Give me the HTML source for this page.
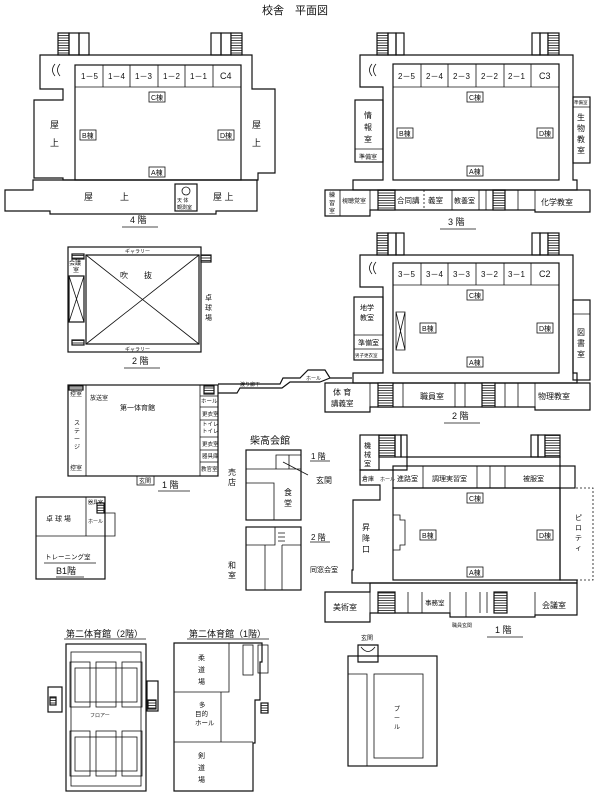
<!DOCTYPE html>
<html><head><meta charset="utf-8"><style>
html,body{margin:0;padding:0;background:#fff}
svg{display:block}
text{font-family:"Liberation Sans","Noto Sans CJK JP",sans-serif;fill:#111}
.s{fill:none;stroke:#111;stroke-width:1.2}
.t{stroke:#111;stroke-width:0.8;fill:none}
.d{fill:none;stroke:#111;stroke-width:0.8;stroke-dasharray:2 2}
.h{fill:url(#hatch);stroke:#111;stroke-width:1.2}
</style></head><body>
<svg width="600" height="799" viewBox="0 0 600 799" xmlns="http://www.w3.org/2000/svg">
<defs><pattern id="hatch" width="4" height="2.5" patternUnits="userSpaceOnUse"><rect width="4" height="2.5" fill="#fff"/><line x1="0" y1="0.5" x2="4" y2="0.5" stroke="#111" stroke-width="0.8"/></pattern></defs>
<text x="262" y="14" font-size="11">校舎　平面図</text>

<!-- ===== 4F ===== -->
<g>
<rect class="h" x="58" y="33" width="11" height="22"/><rect class="s" x="69" y="33" width="10" height="22"/><rect class="s" x="79" y="33" width="10" height="22"/>
<rect class="s" x="211" y="33" width="10" height="22"/><rect class="s" x="221" y="33" width="10" height="22"/><rect class="h" x="231" y="33" width="11" height="22"/>
<path class="s" d="M40 55 H252 V89 H275 V173 H258 V180 H63 V178 H34 V100 H63 V89 H40 Z"/>
<path class="s" d="M33 180 H257 V211 H216 V214 H50 V211 H5 V190 H33 Z"/>
<rect class="s" x="75" y="65" width="166" height="115"/>
<line class="t" x1="75" y1="87" x2="241" y2="87"/>
<g class="t"><line x1="103" y1="65" x2="103" y2="87"/><line x1="130" y1="65" x2="130" y2="87"/><line x1="158" y1="65" x2="158" y2="87"/><line x1="185" y1="65" x2="185" y2="87"/><line x1="213" y1="65" x2="213" y2="87"/></g>
<g font-size="8"><text x="81" y="79">1－5</text><text x="108" y="79">1－4</text><text x="135" y="79">1－3</text><text x="163" y="79">1－2</text><text x="190" y="79">1－1</text><text x="220" y="79" font-size="9">C4</text></g>
<g font-size="7"><rect class="t" x="149" y="92" width="16" height="10"/><text x="151" y="100">C棟</text>
<rect class="t" x="80" y="130" width="16" height="10"/><text x="82" y="138">B棟</text>
<rect class="t" x="218" y="130" width="16" height="10"/><text x="220" y="138">D棟</text>
<rect class="t" x="149" y="167" width="16" height="10"/><text x="151" y="175">A棟</text></g>
<text x="50" y="128" font-size="9">屋</text><text x="50" y="146" font-size="9">上</text>
<text x="252" y="128" font-size="9">屋</text><text x="252" y="146" font-size="9">上</text>
<text x="84" y="200" font-size="9">屋　　　上</text><text x="213" y="200" font-size="9">屋 上</text>
<rect class="s" x="175" y="184" width="22" height="27"/><circle class="t" cx="186" cy="191" r="4"/><text x="177" y="202" font-size="5">天 体</text><text x="177" y="209" font-size="5">観測室</text>
<text x="130" y="223" font-size="9">4 階</text><line class="t" x1="122" y1="227" x2="158" y2="227"/>
<path class="t" d="M55 64 q-5 6 0 12 M60 64 q-5 6 0 12"/>
</g>

<!-- ===== 3F ===== -->
<g>
<rect class="h" x="377" y="33" width="11" height="22"/><rect class="s" x="388" y="33" width="8" height="22"/><rect class="s" x="396" y="33" width="8" height="22"/>
<rect class="s" x="532" y="33" width="8" height="22"/><rect class="s" x="540" y="33" width="8" height="22"/><rect class="h" x="548" y="33" width="11" height="22"/>
<path class="s" d="M360 55 H573 V180 H577 V190 H353 V180 H383 V87 H360 Z"/>
<rect class="s" x="393" y="64" width="166" height="116"/>
<line class="t" x1="393" y1="87" x2="559" y2="87"/>
<g class="t"><line x1="421" y1="64" x2="421" y2="87"/><line x1="448" y1="64" x2="448" y2="87"/><line x1="476" y1="64" x2="476" y2="87"/><line x1="504" y1="64" x2="504" y2="87"/><line x1="531" y1="64" x2="531" y2="87"/></g>
<g font-size="8"><text x="398" y="79">2－5</text><text x="426" y="79">2－4</text><text x="453" y="79">2－3</text><text x="481" y="79">2－2</text><text x="508" y="79">2－1</text><text x="539" y="79" font-size="9">C3</text></g>
<g font-size="7"><rect class="t" x="467" y="92" width="16" height="10"/><text x="469" y="100">C棟</text>
<rect class="t" x="397" y="128" width="16" height="10"/><text x="399" y="136">B棟</text>
<rect class="t" x="537" y="128" width="16" height="10"/><text x="539" y="136">D棟</text>
<rect class="t" x="467" y="166" width="16" height="10"/><text x="469" y="174">A棟</text></g>
<rect class="s" x="355" y="100" width="28" height="62"/><line class="t" x1="355" y1="149" x2="383" y2="149"/>
<text x="364" y="118" font-size="8">情</text><text x="364" y="130" font-size="8">報</text><text x="364" y="142" font-size="8">室</text><text x="359" y="159" font-size="6">準備室</text>
<rect class="s" x="573" y="97" width="17" height="66"/><line class="t" x1="573" y1="107" x2="590" y2="107"/><text x="574" y="104" font-size="4.5">準備室</text>
<text x="577" y="120" font-size="8">生</text><text x="577" y="131" font-size="8">物</text><text x="577" y="142" font-size="8">教</text><text x="577" y="153" font-size="8">室</text>
<path class="s" d="M325 190 H590 V212 H535 V210 H370 V216 H325 Z"/>
<rect class="h" x="378" y="190" width="17" height="20"/><rect class="h" x="493" y="190" width="12" height="20"/>
<g class="t"><line x1="340" y1="190" x2="340" y2="216"/><line x1="370" y1="190" x2="370" y2="210"/><line x1="452" y1="190" x2="452" y2="210"/><line x1="479" y1="190" x2="479" y2="210"/><line x1="486" y1="190" x2="486" y2="210"/><line x1="518" y1="190" x2="518" y2="210"/><line x1="535" y1="190" x2="535" y2="212"/></g>
<line class="d" x1="424" y1="190" x2="424" y2="210"/>
<g font-size="6"><text x="329" y="197">練</text><text x="329" y="205">習</text><text x="329" y="213">室</text><text x="342" y="203">視聴覚室</text><text x="397" y="203" font-size="7.5">合同講</text><text x="428" y="203" font-size="7.5">義室</text><text x="454" y="203" font-size="7">教養室</text></g>
<text x="541" y="205" font-size="8">化学教室</text>
<text x="448" y="225" font-size="9">3 階</text><line class="t" x1="440" y1="229" x2="476" y2="229"/>
<path class="t" d="M372 64 q-5 6 0 12 M376 64 q-5 6 0 12"/>
</g>

<!-- ===== 2F ===== -->
<g>
<rect class="h" x="377" y="233" width="11" height="22"/><rect class="s" x="388" y="233" width="8" height="22"/><rect class="s" x="396" y="233" width="8" height="22"/>
<rect class="s" x="532" y="233" width="8" height="22"/><rect class="s" x="540" y="233" width="8" height="22"/><rect class="h" x="548" y="233" width="11" height="22"/>
<path class="s" d="M360 255 H573 V373 H577 V383 H353 V373 H383 V287 H360 Z"/>
<rect class="s" x="393" y="263" width="166" height="110"/>
<line class="t" x1="393" y1="285" x2="559" y2="285"/>
<g class="t"><line x1="421" y1="263" x2="421" y2="285"/><line x1="448" y1="263" x2="448" y2="285"/><line x1="476" y1="263" x2="476" y2="285"/><line x1="504" y1="263" x2="504" y2="285"/><line x1="531" y1="263" x2="531" y2="285"/></g>
<g font-size="8"><text x="398" y="277">3－5</text><text x="426" y="277">3－4</text><text x="453" y="277">3－3</text><text x="481" y="277">3－2</text><text x="508" y="277">3－1</text><text x="539" y="277" font-size="9">C2</text></g>
<g font-size="7"><rect class="t" x="467" y="290" width="16" height="10"/><text x="469" y="298">C棟</text>
<rect class="t" x="420" y="323" width="16" height="10"/><text x="422" y="331">B棟</text>
<rect class="t" x="537" y="323" width="16" height="10"/><text x="539" y="331">D棟</text>
<rect class="t" x="467" y="357" width="16" height="10"/><text x="469" y="365">A棟</text></g>
<path class="t" d="M396 312 H405 V350 H396 Z M396 312 L405 350 M405 312 L396 350"/>
<rect class="s" x="354" y="297" width="29" height="63"/><line class="t" x1="354" y1="335" x2="383" y2="335"/><line class="t" x1="354" y1="349" x2="383" y2="349"/>
<text x="360" y="310" font-size="7">地学</text><text x="360" y="320" font-size="7">教室</text><text x="358" y="345" font-size="7">準備室</text><text x="355" y="357" font-size="4.5">男子更衣室</text>
<rect class="s" x="573" y="300" width="17" height="80"/><line class="t" x1="573" y1="314" x2="590" y2="314"/><text x="577" y="335" font-size="8">図</text><text x="577" y="346" font-size="8">書</text><text x="577" y="357" font-size="8">室</text>
<path class="s" d="M325 383 H590 V410 H535 V407 H370 V412 H325 Z"/>
<rect class="h" x="378" y="383" width="15" height="24"/><rect class="h" x="482" y="383" width="13" height="24"/>
<g class="t"><line x1="370" y1="383" x2="370" y2="412"/><line x1="403" y1="383" x2="403" y2="407"/><line x1="455" y1="383" x2="455" y2="407"/><line x1="465" y1="383" x2="465" y2="407"/><line x1="505" y1="383" x2="505" y2="407"/><line x1="518" y1="383" x2="518" y2="407"/><line x1="535" y1="383" x2="535" y2="410"/></g>
<text x="333" y="395" font-size="8">体 育</text><text x="331" y="406" font-size="7.5">講義室</text><text x="420" y="399" font-size="8">職員室</text><text x="538" y="399" font-size="8">物理教室</text>
<text x="452" y="419" font-size="9">2 階</text><line class="t" x1="444" y1="423" x2="480" y2="423"/>
<path class="t" d="M372 262 q-5 6 0 12 M376 262 q-5 6 0 12"/>
</g>

<!-- ===== 1F ===== -->
<g>
<rect class="s" x="360" y="435" width="19" height="35"/><text x="364" y="448" font-size="7">機</text><text x="364" y="457" font-size="7">械</text><text x="364" y="466" font-size="7">室</text>
<rect class="h" x="379" y="435" width="16" height="22"/><rect class="s" x="395" y="435" width="6" height="22"/><rect class="s" x="401" y="435" width="6" height="22"/>
<rect class="s" x="531" y="435" width="7" height="22"/><rect class="s" x="538" y="435" width="7" height="22"/><rect class="h" x="545" y="435" width="15" height="22"/>
<path class="s" d="M360 470 V485 H380 V500 H353 V570 H352 V583 H577 V580 H560 V457 H407 V470 Z"/>
<rect class="s" x="393" y="466" width="182" height="22"/>
<rect class="s" x="393" y="488" width="167" height="92"/>
<g class="t"><line x1="423" y1="466" x2="423" y2="488"/><line x1="477" y1="466" x2="477" y2="488"/><line x1="490" y1="466" x2="490" y2="488"/><line x1="505" y1="466" x2="505" y2="488"/></g>
<text x="397" y="481" font-size="7">進路室</text><text x="432" y="481" font-size="7">調理実習室</text><text x="523" y="481" font-size="7">被服室</text>
<text x="362" y="481" font-size="6">倉庫</text><text x="380" y="481" font-size="5">ホール</text>
<path class="d" d="M560 488 H593 V580 H560"/>
<text x="575" y="520" font-size="7">ピ</text><text x="575" y="530" font-size="7">ロ</text><text x="575" y="540" font-size="7">テ</text><text x="575" y="550" font-size="7">ィ</text>
<text x="362" y="530" font-size="8">昇</text><text x="362" y="541" font-size="8">降</text><text x="362" y="552" font-size="8">口</text>
<path class="t" d="M393 515 H400 V520 H405 V545 H400 V550 H393"/>
<g font-size="7"><rect class="t" x="467" y="493" width="16" height="10"/><text x="469" y="501">C棟</text>
<rect class="t" x="420" y="530" width="16" height="10"/><text x="422" y="538">B棟</text>
<rect class="t" x="537" y="530" width="16" height="10"/><text x="539" y="538">D棟</text>
<rect class="t" x="467" y="567" width="16" height="10"/><text x="469" y="575">A棟</text></g>
<path class="s" d="M325 592 H370 V583 H577 V615 H535 V617 H450 V613 H370 V622 H325 Z"/>
<rect class="h" x="378" y="592" width="17" height="21"/><rect class="h" x="494" y="592" width="13" height="21"/>
<g class="t"><line x1="370" y1="592" x2="370" y2="622"/><line x1="408" y1="592" x2="408" y2="613"/><line x1="422" y1="592" x2="422" y2="613"/><line x1="450" y1="592" x2="450" y2="617"/><line x1="466" y1="592" x2="466" y2="617"/><line x1="480" y1="592" x2="480" y2="613"/><line x1="487" y1="592" x2="487" y2="613"/><line x1="535" y1="592" x2="535" y2="615"/></g>
<text x="333" y="610" font-size="8">美術室</text><text x="425" y="605" font-size="6.5">事務室</text><text x="542" y="608" font-size="8">会議室</text>
<text x="452" y="627" font-size="5">職員玄関</text>
<text x="495" y="633" font-size="9">1 階</text><line class="t" x1="487" y1="637" x2="523" y2="637"/>
</g>

<!-- ===== Gym 2F ===== -->
<g>
<rect class="s" x="68" y="247" width="133" height="105"/>
<rect class="s" x="86" y="255" width="113" height="89"/>
<path class="t" d="M86 255 L199 344 M199 255 L86 344"/>
<rect class="s" x="69" y="276" width="15" height="46"/><path class="t" d="M69 276 L84 322 M84 276 L69 322"/>
<text x="69" y="265" font-size="6">会議</text><text x="73" y="272" font-size="6">室</text>
<text x="125" y="253" font-size="5">ギャラリー</text><text x="125" y="351" font-size="5">ギャラリー</text>
<text x="120" y="278" font-size="8">吹　　抜</text>
<text x="205" y="300" font-size="7">卓</text><text x="205" y="310" font-size="7">球</text><text x="205" y="320" font-size="7">場</text>
<rect class="h" x="201" y="255" width="10" height="7"/><rect class="h" x="72" y="254" width="12" height="5"/><rect class="h" x="72" y="340" width="12" height="5"/>
<text x="132" y="364" font-size="9">2 階</text><line class="t" x1="124" y1="368" x2="160" y2="368"/>
</g>

<!-- ===== Gym 1F ===== -->
<g>
<rect class="s" x="68" y="385" width="150" height="91"/>
<line class="t" x1="86" y1="385" x2="86" y2="476"/><line class="t" x1="200" y1="385" x2="200" y2="476"/>
<rect class="t" x="137" y="476" width="17" height="9"/><text x="139" y="483" font-size="6">玄関</text>
<text x="162" y="488" font-size="9">1 階</text><line class="t" x1="158" y1="491" x2="190" y2="491"/>
<text x="120" y="410" font-size="7">第一体育館</text>
<text x="70" y="396" font-size="6">控室</text><text x="70" y="470" font-size="6">控室</text>
<text x="74" y="425" font-size="6">ス</text><text x="74" y="433" font-size="6">テ</text><text x="74" y="441" font-size="6">ー</text><text x="74" y="449" font-size="6">ジ</text>
<text x="90" y="400" font-size="6">放送室</text>
<g font-size="5.5"><text x="201" y="403">ホール</text><text x="202" y="416">更衣室</text><text x="202" y="426">トイレ</text><text x="202" y="433">トイレ</text><text x="202" y="446">更衣室</text><text x="202" y="458">器具庫</text><text x="201" y="471">教官室</text></g>
<g class="t"><line x1="200" y1="396" x2="218" y2="396"/><line x1="200" y1="407" x2="218" y2="407"/><line x1="200" y1="420" x2="218" y2="420"/><line x1="200" y1="437" x2="218" y2="437"/><line x1="200" y1="450" x2="218" y2="450"/><line x1="200" y1="462" x2="218" y2="462"/></g>
<rect class="h" x="204" y="386" width="10" height="8"/><rect class="h" x="69" y="386" width="14" height="4"/>
<path class="s" d="M218 393 H237 L240 388 H282 L290 382 H320 M218 384 H280 L283 378 H300 L308 370 H325 L330 378 H352 M320 382 L330 378"/>
<text x="240" y="386" font-size="5">渡り廊下</text><text x="306" y="380" font-size="5">ホール</text>
</g>

<!-- ===== 柴高会館 ===== -->
<g>
<text x="250" y="444" font-size="10">柴高会館</text>
<rect class="s" x="246" y="450" width="55" height="70"/>
<path class="t" d="M246 469 H301 M276 469 V455 H301 M289 455 V469 M246 483 H274 V520 M283 462 L308 475"/>
<text x="311" y="459" font-size="8">1 階</text><line class="t" x1="310" y1="461" x2="330" y2="461"/>
<text x="316" y="483" font-size="8">玄関</text>
<text x="228" y="475" font-size="8">売</text><text x="228" y="485" font-size="8">店</text>
<text x="284" y="495" font-size="8">食</text><text x="284" y="506" font-size="8">堂</text>
<rect class="s" x="246" y="527" width="55" height="63"/>
<path class="t" d="M246 545 H275 V527 M265 545 V590 M282 545 V590 M282 545 H301 M278 533 H285 M278 537 H285 M278 541 H285"/>
<text x="311" y="540" font-size="8">2 階</text><line class="t" x1="310" y1="542" x2="330" y2="542"/>
<text x="310" y="572" font-size="7">同窓会室</text>
<text x="228" y="568" font-size="8">和</text><text x="228" y="578" font-size="8">室</text>
</g>

<!-- ===== B1 ===== -->
<g>
<rect class="s" x="36" y="497" width="69" height="82"/>
<path class="t" d="M36 536 H105 M86 497 V536 M105 513 H115 V536 H105"/>
<rect class="h" x="97" y="503" width="7" height="10"/>
<text x="46" y="521" font-size="7">卓 球 場</text><text x="88" y="523" font-size="5">ホール</text><text x="88" y="504" font-size="5">器具室</text>
<text x="45" y="559" font-size="6.5">トレーニング室</text><line class="t" x1="44" y1="563" x2="96" y2="563"/>
<text x="56" y="574" font-size="9">B1階</text><line class="t" x1="56" y1="577" x2="84" y2="577"/>
</g>

<!-- ===== 第二体育館 ===== -->
<g>
<text x="66" y="637" font-size="9">第二体育館（2階）</text><line class="t" x1="64" y1="639" x2="146" y2="639"/>
<rect class="s" x="66" y="644" width="80" height="147"/>
<rect class="t" x="71" y="652" width="70" height="134"/>
<g class="t"><rect x="70" y="662" width="20" height="45"/><rect x="96" y="662" width="20" height="45"/><rect x="122" y="662" width="20" height="45"/><rect x="75" y="668" width="62" height="34"/>
<rect x="70" y="731" width="20" height="45"/><rect x="96" y="731" width="20" height="45"/><rect x="122" y="731" width="20" height="45"/><rect x="75" y="737" width="62" height="34"/></g>
<rect class="s" x="48" y="687" width="14" height="25"/><rect class="h" x="50" y="697" width="6" height="8"/>
<rect class="s" x="147" y="681" width="11" height="30"/><rect class="h" x="148" y="700" width="8" height="9"/>
<text x="90" y="717" font-size="5">フロアー</text>
<text x="189" y="637" font-size="9">第二体育館（1階）</text><line class="t" x1="187" y1="639" x2="269" y2="639"/>
<path class="s" d="M174 643 H262 V662 H260 V700 H255 V743 H253 V791 H174 Z"/>
<path class="t" d="M174 692 H229 V643 M174 742 H253 M221 692 V742"/>
<text x="198" y="660" font-size="7">柔</text><text x="198" y="672" font-size="7">道</text><text x="198" y="684" font-size="7">場</text>
<text x="199" y="707" font-size="6.5">多</text><text x="195" y="716" font-size="6.5">目的</text><text x="195" y="725" font-size="6.5">ホール</text>
<text x="198" y="758" font-size="7">剣</text><text x="198" y="770" font-size="7">道</text><text x="198" y="782" font-size="7">場</text>
<rect class="t" x="243" y="645" width="10" height="30"/><rect class="t" x="258" y="645" width="10" height="28"/>
<rect class="h" x="261" y="703" width="7" height="10"/>
</g>

<!-- ===== Pool ===== -->
<g>
<text x="361" y="640" font-size="6">玄関</text>
<path class="s" d="M358 645 H378 V662 H358 Z"/><path class="t" d="M361 647 Q368 656 375 647"/>
<rect class="s" x="348" y="656" width="89" height="110"/>
<path class="t" d="M348 674 H367 V766"/>
<rect class="t" x="374" y="674" width="49" height="84"/>
<text x="394" y="711" font-size="6">プ</text><text x="394" y="720" font-size="6">ー</text><text x="394" y="729" font-size="6">ル</text>
</g>
</svg>
</body></html>
